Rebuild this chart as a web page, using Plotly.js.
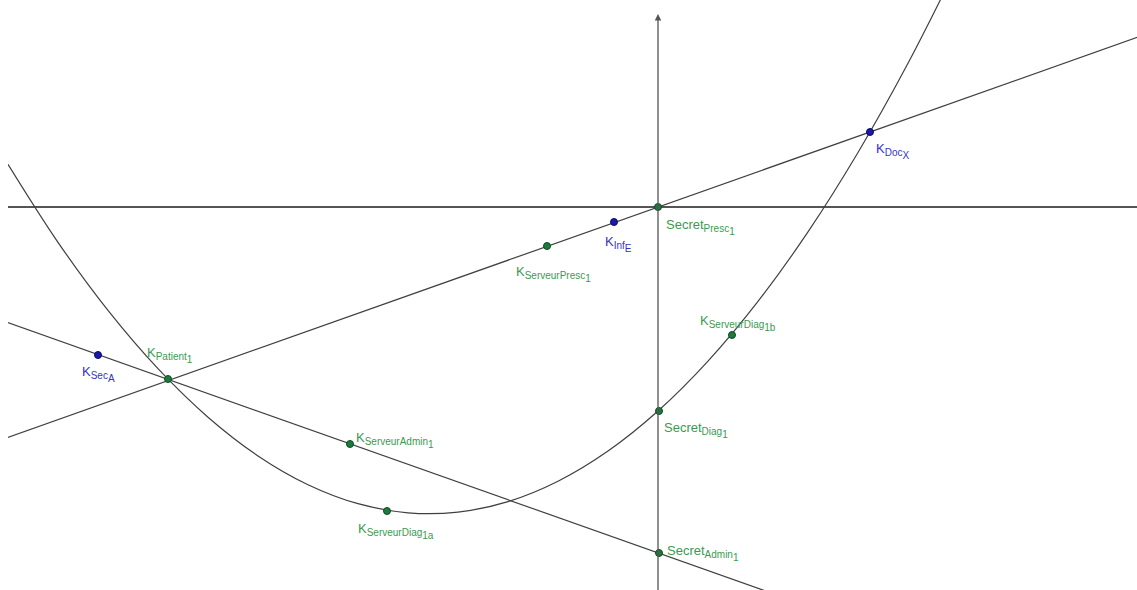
<!DOCTYPE html>
<html><head><meta charset="utf-8">
<script src="https://cdn.plot.ly/plotly-3.0.1.min.js"></script>
<style>html,body{margin:0;padding:0;background:#fff}#chart{width:1137px;height:590px}</style>
</head><body><div id="chart"></div>
<script>
// Points (unit = 100 px, origin at axes crossing)
const pointNames = ["Secret_Presc1","K_Inf_E","K_ServeurPresc1","K_Patient1","K_Sec_A","K_ServeurAdmin1","K_ServeurDiag1a","Secret_Admin1","Secret_Diag1","K_ServeurDiag1b","K_Doc_X"];
const pointMain = ["Secret","K","K","K","K","K","K","Secret","Secret","K","K"];
const pointSub1 = ["Presc","Inf","ServeurPresc","Patient","Sec","ServeurAdmin","ServeurDiag","Admin","Diag","ServeurDiag","Doc"];
const pointSub2 = ["1","E","1","1","A","1","1a","1","1","1b","X"];
const pointX = [0, -0.44, -1.11, -4.90, -5.60, -3.08, -2.71, 0.01, 0.01, 0.74, 2.12];
const pointY = [0, -0.15, -0.39, -1.72, -1.48, -2.37, -3.04, -3.46, -2.04, -1.28, 0.75];
const pointGroup = ["green","blue","green","green","blue","green","green","green","green","green","blue"];

// Line through K_Patient1, Secret_Presc1, K_Doc_X
const line1X = [-7.0, 5.0];
const line1Y = [-2.48, 1.77];
// Line through K_Sec_A, K_Patient1, K_ServeurAdmin1, Secret_Admin1
const line2X = [-7.0, 1.5];
const line2Y = [-0.98, -3.99];
// Parabola samples
const curveX = [-6.5, -6.0, -5.5, -5.0, -4.5, -4.0, -3.5, -3.0, -2.5, -2.0, -1.5, -1.0, -0.5, 0, 0.5, 1.0, 1.5, 2.0, 2.5, 3.0];
const curveY = [0.427, -0.353, -1.034, -1.617, -2.102, -2.489, -2.777, -2.967, -3.058, -3.051, -2.946, -2.742, -2.440, -2.04, -1.541, -0.944, -0.249, 0.545, 1.437, 2.427];

// label offsets (px)
const labelShift = {
  Secret_Presc1:[6,-8], K_Inf_E:[-11,-10], K_ServeurPresc1:[-33,-16], K_Patient1:[-23,36],
  K_Sec_A:[-18,-7], K_ServeurAdmin1:[4,16], K_ServeurDiag1a:[-31,-8], Secret_Admin1:[6,12],
  Secret_Diag1:[3,-7], K_ServeurDiag1b:[-34,24], K_Doc_X:[4,-7]
};
const fill = {green:"#1e7a3c", blue:"#1a1aa6"};
const edge = {green:"#0d4d20", blue:"#0a0a66"};
const txt = {green:"#3b9a52", blue:"#3333cc"};

const traces = [
  {x:line1X, y:line1Y, mode:"lines", line:{color:"#404040", width:1.2}, hoverinfo:"skip"},
  {x:line2X, y:line2Y, mode:"lines", line:{color:"#404040", width:1.2}, hoverinfo:"skip"},
  {x:curveX, y:curveY, mode:"lines", line:{color:"#404040", width:1.2, shape:"spline", smoothing:1}, hoverinfo:"skip"},
  {x:pointX, y:pointY, mode:"markers",
   marker:{size:7, color:pointGroup.map(g=>fill[g]), line:{color:pointGroup.map(g=>edge[g]), width:1}},
   text:pointNames, hoverinfo:"text"}
];

const label = i => pointMain[i] + '<sub><span style="font-size:10px">' + pointSub1[i] +
  '</span><span style="font-size:10px;baseline-shift:-3px">' + pointSub2[i] + '</span></sub>';

const annotations = pointNames.map((n,i)=>({
  x:pointX[i], y:pointY[i], xref:"x", yref:"y", text:label(i), showarrow:false,
  xanchor:"left", yanchor:"top", xshift:labelShift[n][0], yshift:labelShift[n][1],
  font:{family:"Liberation Sans, Arial, sans-serif", size:13, color:txt[pointGroup[i]]}
}));
// y axis with arrow
annotations.push({x:0, y:1.93, ax:0, ay:-3.9, xref:"x", yref:"y", axref:"x", ayref:"y",
  text:"", showarrow:true, arrowhead:2, arrowsize:1, arrowwidth:1.3, arrowcolor:"#555"});

const layout = {
  width:1137, height:590, margin:{l:8,r:0,t:0,b:0},
  paper_bgcolor:"#fff", plot_bgcolor:"#fff", showlegend:false,
  xaxis:{range:[-6.50,4.79], showgrid:false, showticklabels:false, ticks:"", zeroline:false, showline:false, fixedrange:true},
  yaxis:{range:[-3.83,2.07], showgrid:false, showticklabels:false, ticks:"", zeroline:true, zerolinecolor:"#555", zerolinewidth:1.3, showline:false, fixedrange:true},
  annotations:annotations
};
Plotly.newPlot("chart", traces, layout, {displayModeBar:false, staticPlot:true});
</script></body></html>
